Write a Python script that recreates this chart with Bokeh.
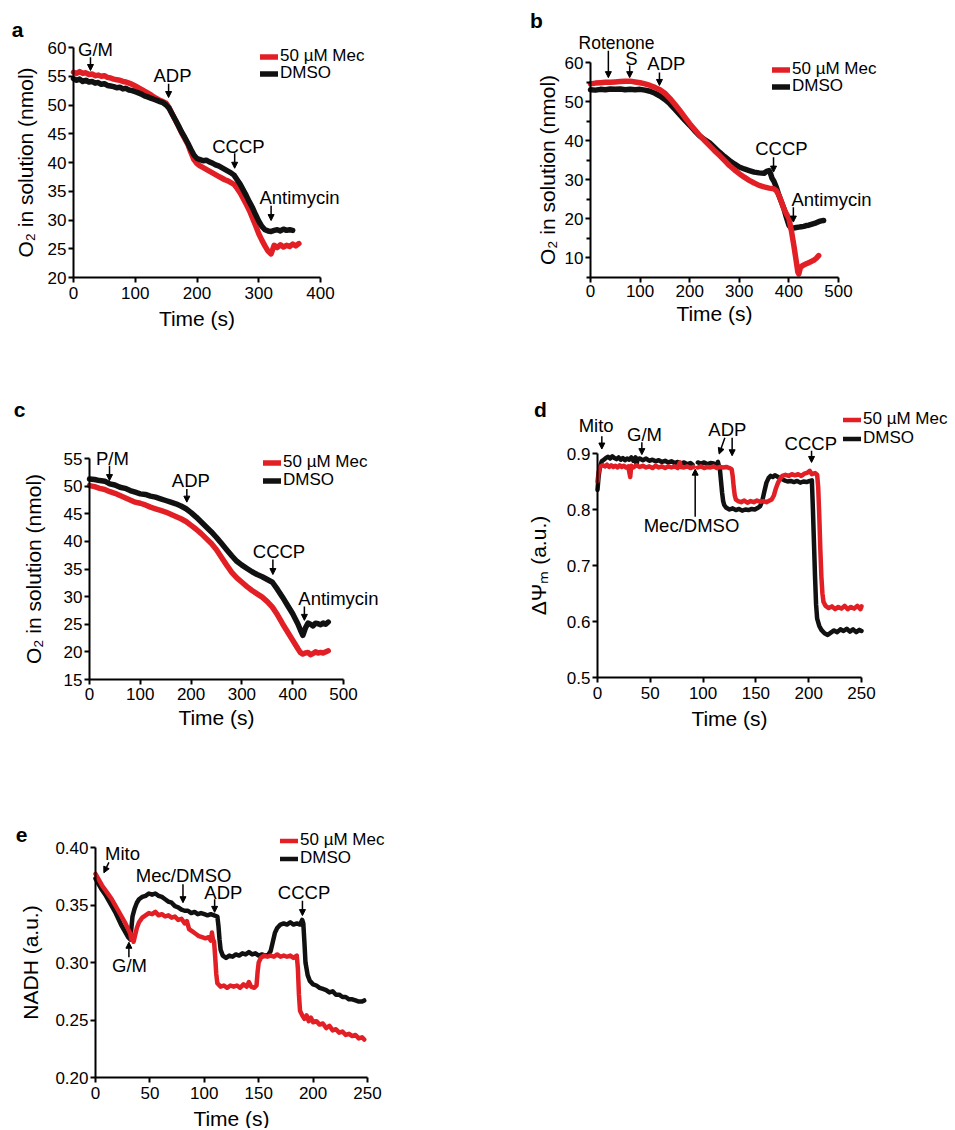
from bokeh.plotting import figure
from bokeh.models import (Range1d, FixedTicker, Label, Arrow, NormalHead, Legend,
                          LegendItem, PrintfTickFormatter)
from bokeh.layouts import column, row
from bokeh.embed import file_html
from bokeh.resources import INLINE

FONT = "Liberation Sans"
RED = "#e31f26"
BLK = "#111111"
NaN = float("nan")

# ---------------- Panel a : O2 (G/M) ----------------
A_T_DMSO = [0, 5, 10, 15, 20, 25, 30, 35, 40, 45, 50, 55, 60, 65, 70, 75, 80, 85, 90, 95,
            100, 105, 110, 115, 120, 125, 130, 135, 140, 145, 150, 155, 160, 165, 170, 175,
            180, 185, 190, 195, 200, 205, 210, 215, 220, 225, 230, 235, 240, 245, 250, 255,
            260, 265, 270, 275, 280, 285, 290, 295, 300, 305, 310, 315, 320, 325, 330, 335,
            340, 345, 350, 355]
A_DMSO = [54.6, 54.3, 54.5, 54.1, 54.3, 54.0, 54.1, 53.8, 53.9, 53.6, 53.7, 53.4, 53.3, 53.2,
          53.0, 53.1, 52.8, 52.9, 52.6, 52.5, 52.3, 52.1, 51.9, 51.6, 51.4, 51.2, 51.0, 50.8,
          50.6, 50.4, 50.0, 49.4, 48.4, 47.4, 46.4, 45.3, 44.4, 43.4, 42.3, 41.3, 40.7, 40.5,
          40.3, 40.4, 40.1, 39.9, 39.6, 39.4, 39.1, 38.8, 38.5, 38.2, 37.8, 37.0, 36.2, 35.2,
          34.2, 33.1, 32.1, 30.9, 29.8, 28.9, 28.3, 28.1, 28.0, 28.2, 28.3, 28.1, 28.4, 28.2,
          28.3, 28.2]
A_T_MEC = [0, 5, 10, 15, 20, 25, 30, 35, 40, 45, 50, 55, 60, 65, 70, 75, 80, 85, 90, 95,
           100, 105, 110, 115, 120, 125, 130, 135, 140, 145, 150, 155, 160, 165, 170, 175,
           180, 185, 190, 195, 200, 205, 210, 215, 220, 225, 230, 235, 240, 245, 250, 255,
           260, 265, 270, 275, 280, 285, 290, 295, 300, 305, 310, 315, 320, 325, 330, 335,
           340, 345, 350, 355, 360, 365]
A_MEC = [55.7, 55.5, 55.8, 55.5, 55.6, 55.3, 55.4, 55.1, 55.2, 55.0, 55.1, 54.8, 54.7, 54.5,
         54.4, 54.3, 54.1, 54.0, 53.8, 53.6, 53.3, 53.0, 52.7, 52.4, 52.1, 51.8, 51.4, 51.1,
         50.8, 50.6, 50.3, 49.5, 48.4, 47.4, 46.3, 45.2, 44.2, 43.2, 41.8, 40.5, 39.8, 39.4,
         39.1, 38.8, 38.5, 38.2, 37.9, 37.6, 37.3, 37.0, 36.8, 36.5, 36.2, 35.5, 34.7, 33.7,
         32.7, 31.6, 30.3, 29.0, 27.6, 26.5, 25.5, 24.6, 24.1, 25.6, 25.2, 25.7, 25.3, 25.6,
         25.4, 25.8, 25.5, 25.9]

# ---------------- Panel b : O2 (Rotenone / S) ----------------
B_T_DMSO = [0, 10, 20, 30, 40, 50, 60, 70, 80, 90, 100, 110, 120, 130, 140, 150, 160, 170,
            180, 190, 200, 210, 220, 230, 240, 250, 260, 270, 280, 290, 300, 310, 320, 330,
            340, 350, 355, 360, 363, 366, 370, 375, 380, 385, 390, 395, 400, 405, 410, 415,
            420, 425, 430, 435, 440, 445, 450, 455, 460, 465, 470]
B_DMSO = [53.1, 53.0, 53.2, 53.1, 53.3, 53.2, 53.3, 53.1, 53.2, 53.1, 53.2, 53.0, 52.7, 52.2,
          51.5, 50.6, 49.5, 48.1, 46.7, 45.3, 44.0, 42.6, 41.3, 40.3, 39.5, 38.3, 37.1, 36.0,
          35.0, 34.1, 33.3, 32.8, 32.4, 32.0, 31.8, 31.7, 32.2, 32.4, 31.6, 30.4, 29.6, 28.0,
          26.0, 24.3, 22.6, 20.4, 18.4, 17.6, 17.7, 17.8, 17.9, 18.0, 18.1, 18.3, 18.4, 18.6,
          18.8, 19.0, 19.3, 19.5, 19.6]
B_T_MEC = [0, 10, 20, 30, 40, 50, 60, 70, 80, 90, 100, 110, 120, 130, 140, 150, 160, 170,
           180, 190, 200, 210, 220, 230, 240, 250, 260, 270, 280, 290, 300, 310, 320, 330,
           340, 350, 360, 370, 375, 380, 385, 390, 395, 400, 405, 410, 415, 418, 420, 423,
           427, 430, 435, 440, 445, 450, 455, 460]
B_MEC = [54.6, 54.8, 54.9, 55.0, 55.0, 55.1, 55.2, 55.3, 55.3, 55.1, 54.9, 54.6, 54.2, 53.7,
         53.1, 52.2, 50.9, 49.4, 47.8, 46.1, 44.4, 42.9, 41.4, 40.1, 38.8, 37.5, 36.3, 35.0,
         33.7, 32.6, 31.6, 30.7, 29.9, 29.2, 28.6, 28.2, 27.9, 27.7, 27.2, 26.0, 24.4, 22.6,
         21.3, 20.1, 17.0, 13.2, 9.0, 6.4, 5.9, 7.5, 8.0, 8.2, 8.5, 8.8, 9.1, 9.4, 9.9, 10.6]

# ---------------- Panel c : O2 (P/M) ----------------
C_T_DMSO = [0, 10, 20, 30, 40, 50, 60, 70, 80, 90, 100, 110, 120, 130, 140, 150, 160, 170,
            180, 190, 200, 210, 220, 230, 240, 250, 260, 270, 280, 290, 300, 310, 320, 330,
            340, 350, 360, 370, 380, 390, 400, 410, 415, 420, 425, 430, 435, 440, 445, 450,
            455, 460, 465, 470]
C_DMSO = [51.3, 51.2, 51.0, 50.9, 50.4, 50.2, 49.8, 49.6, 49.2, 48.9, 48.6, 48.5, 48.2, 48.0,
          47.7, 47.4, 47.1, 46.8, 46.4, 45.9, 45.2, 44.4, 43.5, 42.6, 41.7, 40.7, 39.6, 38.5,
          37.4, 36.4, 35.7, 35.1, 34.5, 34.0, 33.6, 33.1, 32.6, 31.3, 29.9, 28.4, 26.9, 25.1,
          24.0, 23.0, 24.3, 25.2, 25.0, 24.7, 25.2, 25.1, 24.9, 25.2, 25.0, 25.4]
C_T_MEC = [0, 10, 20, 30, 40, 50, 60, 70, 80, 90, 100, 110, 120, 130, 140, 150, 160, 170,
           180, 190, 200, 210, 220, 230, 240, 250, 260, 270, 280, 290, 300, 310, 320, 330,
           340, 350, 360, 370, 380, 390, 400, 410, 415, 420, 425, 430, 435, 440, 445, 450,
           455, 460, 470]
C_MEC = [50.1, 49.9, 49.6, 49.4, 49.0, 48.7, 48.3, 47.9, 47.5, 47.1, 46.9, 46.6, 46.2, 45.9,
         45.6, 45.3, 44.9, 44.5, 44.1, 43.6, 42.9, 42.2, 41.4, 40.5, 39.6, 38.5, 37.1, 35.7,
         34.4, 33.4, 32.6, 31.8, 31.1, 30.5, 29.9, 29.1, 28.1, 26.7, 25.1, 23.6, 22.1, 20.6,
         19.9, 19.6, 19.8, 19.9, 19.5, 19.7, 20.0, 19.8, 19.9, 19.8, 20.2]

# ---------------- Panel d : membrane potential ----------------
D_T_DMSO = [0, 1, 2, 3, 4, 6, 8, 10, 12, 14, 16, 18, 20, 22, 24, 26, 28, 30, 32, 34, 36, 37,
            38, 40, 43, 46, 49, 52, 55, 58, 61, 64, 67, 70, 73, 76, 79, 82, 85, 88, 90, 92,
            95, 98, 101, 104, 107, 110, 112, 113, 114, 116, 117, 118, 119, 120, 122, 125, 128,
            131, 134, 137, 140, 143, 146, 149, 152, 154, 156, 158, 160, 162, 164, 166, 168,
            171, 174, 177, 180, 183, 186, 189, 192, 195, 198, 201, 203, 204, 205, 206, 207,
            208, 210, 212, 215, 218, 221, 224, 227, 230, 233, 236, 239, 242, 245, 248, 250]
D_DMSO = [0.835, 0.858, 0.872, 0.880, 0.886, 0.889, 0.892, 0.894, 0.891, 0.895, 0.892, 0.890,
          0.893, 0.889, 0.892, 0.888, 0.891, 0.889, 0.893, 0.887, 0.893, 0.880, 0.890, 0.891,
          0.888, 0.891, 0.887, 0.889, 0.886, 0.888, 0.885, 0.887, 0.884, 0.886, 0.883, 0.885,
          0.882, 0.884, 0.881, 0.883, 0.880, NaN, 0.884, 0.882, 0.884, 0.881, 0.883, 0.882,
          0.880, NaN, 0.885, 0.870, 0.850, 0.830, 0.815, 0.808, 0.803, 0.800, 0.802, 0.799,
          0.801, 0.798, 0.800, 0.799, 0.801, 0.800, 0.803, 0.806, 0.815, 0.832, 0.848, 0.856,
          0.860, 0.858, 0.861, 0.858, 0.855, 0.852, 0.850, 0.851, 0.849, 0.851, 0.848, 0.850,
          0.849, 0.851, 0.852, 0.800, 0.740, 0.680, 0.630, 0.605, 0.592, 0.585, 0.579, 0.576,
          0.580, 0.584, 0.581, 0.586, 0.583, 0.587, 0.582, 0.586, 0.581, 0.585, 0.583]
D_T_MEC = [0, 1, 2, 3, 5, 7, 9, 11, 13, 15, 17, 19, 21, 23, 25, 27, 29, 31, 32, 34, 37, 40,
           43, 46, 49, 52, 55, 58, 61, 64, 67, 70, 73, 76, 78, 79, 82, 85, 88, 91, 93, 95, 98,
           101, 104, 107, 110, 113, 116, 119, 122, 125, 127, 128, 129, 130, 131, 133, 136,
           139, 142, 145, 148, 151, 154, 157, 160, 163, 165, 167, 169, 171, 173, 175, 178,
           181, 184, 187, 190, 193, 196, 199, 201, 203, 206, 208, 209, 210, 211, 212, 213,
           214, 216, 219, 222, 225, 228, 231, 234, 237, 240, 243, 246, 249, 250]
D_MEC = [0.850, 0.866, 0.874, 0.877, 0.879, 0.877, 0.880, 0.876, 0.879, 0.876, 0.878, 0.875,
         0.879, 0.876, 0.878, 0.875, 0.877, 0.858, 0.878, 0.875, 0.879, 0.876, 0.878, 0.875,
         0.877, 0.874, 0.878, 0.875, 0.877, 0.874, 0.877, 0.875, 0.877, 0.874, 0.884, 0.876,
         0.875, 0.877, 0.874, 0.876, NaN, 0.875, 0.877, 0.874, 0.876, 0.875, 0.877, 0.874,
         0.876, 0.875, 0.876, 0.874, 0.872, 0.860, 0.840, 0.825, 0.818, 0.815, 0.813, 0.816,
         0.812, 0.815, 0.813, 0.816, 0.814, 0.815, 0.813, 0.816, 0.818, 0.825, 0.838, 0.848,
         0.855, 0.860, 0.862, 0.860, 0.863, 0.861, 0.863, 0.860, 0.864, 0.866, 0.869, 0.863,
         0.865, 0.862, 0.840, 0.790, 0.730, 0.680, 0.650, 0.635, 0.628, 0.624, 0.627, 0.622,
         0.626, 0.623, 0.628, 0.622, 0.626, 0.623, 0.628, 0.622, 0.627]

# ---------------- Panel e : NADH ----------------
E_T_DMSO = [0, 3, 6, 9, 12, 15, 18, 21, 24, 27, 30, 32, 33, 34, 36, 38, 40, 43, 46, 49, 52,
            55, 58, 61, 64, 67, 70, 73, 76, 79, 82, 85, 88, 91, 94, 97, 100, 103, 106, 109,
            112, 113, 114, 115, 117, 120, 123, 126, 129, 132, 135, 138, 141, 144, 147, 150,
            153, 156, 159, 161, 163, 165, 167, 170, 173, 176, 179, 182, 185, 188, 190, 191,
            192, 193, 195, 197, 200, 203, 206, 209, 212, 215, 218, 221, 224, 227, 230, 233,
            236, 239, 242, 245, 247]
E_DMSO = [0.373, 0.368, 0.363, 0.359, 0.354, 0.349, 0.344, 0.338, 0.332, 0.327, 0.322, 0.320,
          0.330, 0.340, 0.347, 0.352, 0.355, 0.357, 0.358, 0.360, 0.359, 0.360, 0.358, 0.357,
          0.355, 0.353, 0.352, 0.349, 0.348, 0.346, 0.345, 0.345, 0.343, 0.344, 0.342, 0.343,
          0.342, 0.341, 0.342, 0.341, 0.340, 0.332, 0.320, 0.311, 0.306, 0.304, 0.306, 0.305,
          0.307, 0.306, 0.308, 0.307, 0.309, 0.307, 0.308, 0.306, 0.307, 0.306, 0.307, 0.310,
          0.318, 0.326, 0.330, 0.333, 0.334, 0.333, 0.335, 0.333, 0.334, 0.333, 0.337, 0.334,
          0.318, 0.300, 0.289, 0.284, 0.281, 0.280, 0.278, 0.277, 0.276, 0.274, 0.275, 0.272,
          0.272, 0.270, 0.270, 0.268, 0.268, 0.267, 0.266, 0.266, 0.267]
E_T_MEC = [0, 3, 6, 9, 12, 15, 18, 21, 24, 27, 30, 32, 33, 34, 35, 36, 38, 40, 43, 46, 49,
           52, 55, 58, 61, 64, 67, 70, 73, 76, 79, 82, 84, 86, 89, 92, 95, 98, 101, 104, 106,
           107, 108, 109, 110, 111, 112, 115, 118, 121, 124, 127, 130, 133, 136, 139, 141,
           143, 146, 148, 149, 150, 152, 155, 158, 161, 164, 167, 170, 173, 176, 179, 182,
           185, 186, 187, 188, 190, 192, 194, 196, 198, 200, 203, 206, 209, 212, 215, 218,
           221, 224, 227, 230, 233, 236, 239, 242, 245, 247]
E_MEC = [0.377, 0.372, 0.367, 0.363, 0.359, 0.355, 0.350, 0.345, 0.340, 0.335, 0.329, 0.325,
         0.320, 0.324, 0.318, 0.322, 0.330, 0.335, 0.339, 0.341, 0.343, 0.342, 0.344, 0.341,
         0.342, 0.340, 0.341, 0.339, 0.340, 0.337, 0.338, 0.334, 0.336, 0.329, 0.327, 0.325,
         0.323, 0.322, 0.321, 0.322, 0.319, 0.326, 0.320, 0.318, 0.305, 0.290, 0.282, 0.279,
         0.280, 0.278, 0.280, 0.279, 0.280, 0.278, 0.281, 0.279, 0.283, 0.279, 0.278, 0.280,
         0.292, 0.300, 0.304, 0.306, 0.305, 0.306, 0.305, 0.307, 0.305, 0.306, 0.305, 0.306,
         0.304, 0.306, 0.295, 0.272, 0.258, 0.254, 0.251, 0.254, 0.249, 0.252, 0.248, 0.249,
         0.246, 0.247, 0.243, 0.245, 0.241, 0.242, 0.239, 0.240, 0.237, 0.238, 0.236, 0.237,
         0.234, 0.235, 0.233]

SERIES_LABELS = ["50 µM Mec", "DMSO"]


class Panel:
    """A figure whose axes region sits at a given page box (left, right, top, bottom)."""

    def __init__(self, fig_rect, data_rect, xr, yr, xticks, yticks, ylabel,
                 yminor=None, yfmt=None, ylab_standoff=8, xlab_standoff=5, xtick_standoff=4):
        fx, fy, fw, fh = fig_rect
        L, R, T, B = data_rect
        self.fig_rect, self.data_rect, self.xr, self.yr = fig_rect, data_rect, xr, yr
        sx = (R - L) / (xr[1] - xr[0])
        sy = (B - T) / (yr[1] - yr[0])
        self.sx, self.sy = sx, sy
        x_rng = Range1d(xr[0] - (L - fx) / sx, xr[1] + (fx + fw - R) / sx)
        y_rng = Range1d(yr[0] - (fy + fh - B) / sy, yr[1] + (T - fy) / sy)
        p = figure(width=fw, height=fh, x_range=x_rng, y_range=y_rng,
                   output_backend="svg", toolbar_location=None,
                   min_border_left=0, min_border_right=0, min_border_top=0,
                   min_border_bottom=0)
        p.outline_line_color = None
        p.grid.visible = False
        p.background_fill_color = "white"
        p.border_fill_color = "white"
        p.xaxis.ticker = FixedTicker(ticks=xticks)
        p.yaxis.ticker = FixedTicker(ticks=yticks, minor_ticks=yminor or [])
        if yfmt:
            p.yaxis.formatter = PrintfTickFormatter(format=yfmt)
        p.xaxis.fixed_location = yr[0]
        p.yaxis.fixed_location = xr[0]
        p.xaxis.bounds = (xr[0], xr[1])
        p.yaxis.bounds = (yr[0], yr[1])
        for ax in p.axis:
            ax.axis_line_width = 2
            ax.axis_line_color = "black"
            ax.major_tick_line_width = 2
            ax.major_tick_line_color = "black"
            ax.major_tick_out = 5
            ax.major_tick_in = 0
            ax.minor_tick_line_width = 2
            ax.minor_tick_line_color = "black" if yminor else None
            ax.minor_tick_out = 4
            ax.minor_tick_in = 0
            ax.major_label_text_font = FONT
            ax.major_label_text_font_size = "17px"
            ax.major_label_text_color = "black"
            ax.axis_label_text_font = FONT
            ax.axis_label_text_font_style = "normal"
            ax.axis_label_text_color = "black"
            ax.axis_label_text_font_size = "21px"
        p.xaxis.minor_tick_line_color = None
        p.xaxis.major_label_standoff = xtick_standoff
        p.yaxis.major_label_standoff = 2
        p.xaxis.axis_label = "Time (s)"
        p.xaxis.axis_label_standoff = xlab_standoff
        p.yaxis.axis_label = ylabel
        p.yaxis.axis_label_standoff = ylab_standoff
        self.p = p

    def to_data(self, px, py):
        L, R, T, B = self.data_rect
        return (self.xr[0] + (px - L) / self.sx, self.yr[0] + (B - py) / self.sy)

    def draw(self, tb, vb, tr, vr, red_on_top, lw):
        p = self.p
        kw = dict(line_width=lw, line_cap="round", line_join="round")
        if red_on_top:
            rb = p.line(tb, vb, line_color=BLK, **kw)
            rr = p.line(tr, vr, line_color=RED, **kw)
        else:
            rr = p.line(tr, vr, line_color=RED, **kw)
            rb = p.line(tb, vb, line_color=BLK, **kw)
        self.rr, self.rb = rr, rb

    def legend(self, glyph_left, cy_red, cy_blk, size="17px"):
        fx, fy, fw, fh = self.fig_rect
        for rend, lab, cy in ((self.rr, SERIES_LABELS[0], cy_red),
                              (self.rb, SERIES_LABELS[1], cy_blk)):
            lg = Legend(items=[LegendItem(label=lab, renderers=[rend])],
                        location=(glyph_left - fx, (fy + fh) - cy - 10),
                        glyph_width=18, glyph_height=15, label_height=15, label_standoff=2,
                        padding=0, margin=0, spacing=0, border_line_color=None,
                        background_fill_alpha=0, label_text_font=FONT,
                        label_text_font_size=size, label_text_color="black")
            self.p.add_layout(lg)

    def annotate(self, text, tx, ty, arrows, size="18.5px"):
        self.p.add_layout(Label(x=tx, y=ty, text=text, text_align="center",
                                text_baseline="middle", text_font=FONT,
                                text_font_size=size, text_color="black"))
        for (x0, y0, x1, y1) in arrows:
            self.p.add_layout(Arrow(end=NormalHead(size=6, fill_color="black",
                                                   line_color="black", line_width=1),
                                    x_start=x0, y_start=y0, x_end=x1, y_end=y1,
                                    line_width=1.5, line_color="black"))

    def letter(self, text, px, py):
        x, y = self.to_data(px, py)
        self.p.add_layout(Label(x=x, y=y, text=text, text_align="center",
                                text_baseline="middle", text_font=FONT,
                                text_font_size="21px", text_font_style="bold",
                                text_color="black"))


# page boxes (x, y, w, h) of each figure and the axes region (left, right, top, bottom)
FIG_A, BOX_A = (0, 0, 478, 398), (73, 320, 47, 277)
FIG_B, BOX_B = (478, 0, 476, 398), (590, 838, 62.3, 277)
FIG_C, BOX_C = (0, 398, 478, 392), (89, 343, 458, 679)
FIG_D, BOX_D = (478, 398, 476, 392), (597, 861, 453, 677)
FIG_E, BOX_E = (0, 790, 478, 338), (95, 367, 847, 1077)

# ---- a ----
A = Panel(FIG_A, BOX_A, (0, 400), (20, 60), [0, 100, 200, 300, 400],
          [20, 25, 30, 35, 40, 45, 50, 55, 60], "O₂ in solution (nmol)")
A.draw(A_T_DMSO, A_DMSO, A_T_MEC, A_MEC, False, 5.5)
A.legend(260, 56, 73)
A.annotate("G/M", 35.6, 59.65, [(27.5, 58.3, 27.5, 56.0)])
A.annotate("ADP", 160.3, 55.1, [(154, 53.7, 154, 51.3)])
A.annotate("CCCP", 267, 42.8, [(261, 41.6, 261, 39.0)])
A.annotate("Antimycin", 366, 33.9, [(320, 32.5, 320, 29.9)])
A.letter("a", 17, 29)

# ---- b ----
B = Panel(FIG_B, BOX_B, (0, 500), (5, 60), [0, 100, 200, 300, 400, 500],
          [10, 20, 30, 40, 50, 60], "O₂ in solution (nmol)", yminor=[5, 15, 25, 35, 45, 55],
          ylab_standoff=3, xlab_standoff=2, xtick_standoff=2)
B.draw(B_T_DMSO, B_DMSO, B_T_MEC, B_MEC, True, 5.5)
B.legend(772, 69, 86)
B.annotate("Rotenone", 52.4, 65.1, [(36, 63.1, 36, 56.2)], size="17.5px")
B.annotate("S", 82.7, 61.1, [(79, 59.3, 79, 56.2)])
B.annotate("ADP", 153, 59.7, [(139, 57.5, 139, 54.2)])
B.annotate("CCCP", 385, 38.1, [(369, 35.8, 369, 32.0)])
B.annotate("Antimycin", 486, 25.0, [(409, 23.0, 409, 19.2)])
B.letter("b", 536, 20)

# ---- c ----
C = Panel(FIG_C, BOX_C, (0, 500), (15, 55), [0, 100, 200, 300, 400, 500],
          [15, 20, 25, 30, 35, 40, 45, 50, 55], "O₂ in solution (nmol)",
          ylab_standoff=16, xlab_standoff=3, xtick_standoff=3)
C.draw(C_T_DMSO, C_DMSO, C_T_MEC, C_MEC, False, 5.5)
C.legend(263, 462, 480)
C.annotate("P/M", 45, 55.06, [(39.4, 53.7, 39.4, 51.0)])
C.annotate("ADP", 199.5, 51.0, [(191.6, 49.5, 191.6, 47.1)])
C.annotate("CCCP", 373, 38.2, [(361, 36.7, 361, 34.0)])
C.annotate("Antimycin", 490, 29.7, [(423, 28.2, 423, 25.7)])
C.letter("c", 19, 409)

# ---- d ----
D = Panel(FIG_D, BOX_D, (0, 250), (0.5, 0.9), [0, 50, 100, 150, 200, 250],
          [0.5, 0.6, 0.7, 0.8, 0.9], "ΔΨₘ (a.u.)", ylab_standoff=14)
D.draw(D_T_DMSO, D_DMSO, D_T_MEC, D_MEC, True, 4.5)
D.legend(843, 419, 438)
D.annotate("Mito", -1.3, 0.950, [(4.1, 0.931, 4.1, 0.908)])
D.annotate("G/M", 44.5, 0.934, [(42, 0.920, 42, 0.898)])
D.annotate("ADP", 123, 0.943, [(127.5, 0.928, 127.5, 0.896), (120.6, 0.928, 115.2, 0.899)])
D.annotate("CCCP", 202, 0.918, [(202.7, 0.905, 202.7, 0.884)])
D.annotate("Mec/DMSO", 89, 0.771, [(92.5, 0.787, 92.5, 0.872)])
D.letter("d", 540, 409)

# ---- e ----
E = Panel(FIG_E, BOX_E, (0, 250), (0.2, 0.4), [0, 50, 100, 150, 200, 250],
          [0.20, 0.25, 0.30, 0.35, 0.40], "NADH (a.u.)", yfmt="%.2f", ylab_standoff=10)
E.draw(E_T_DMSO, E_DMSO, E_T_MEC, E_MEC, True, 4.5)
E.legend(280, 840, 858)
E.annotate("Mito", 24.8, 0.395, [(12.3, 0.387, 7.7, 0.378)])
E.annotate("G/M", 31.3, 0.297, [(30.7, 0.3046, 30.7, 0.3176)])
E.annotate("Mec/DMSO", 81, 0.3754, [(80.4, 0.368, 80.4, 0.352)])
E.annotate("ADP", 117.5, 0.361, [(109.5, 0.355, 109.5, 0.3436)])
E.annotate("CCCP", 191.7, 0.361, [(190.2, 0.3538, 190.2, 0.3408)])
E.letter("e", 21, 834)

layout = column(row(A.p, B.p), row(C.p, D.p), row(E.p))

open("out.html", "w").write(file_html(layout, INLINE))
